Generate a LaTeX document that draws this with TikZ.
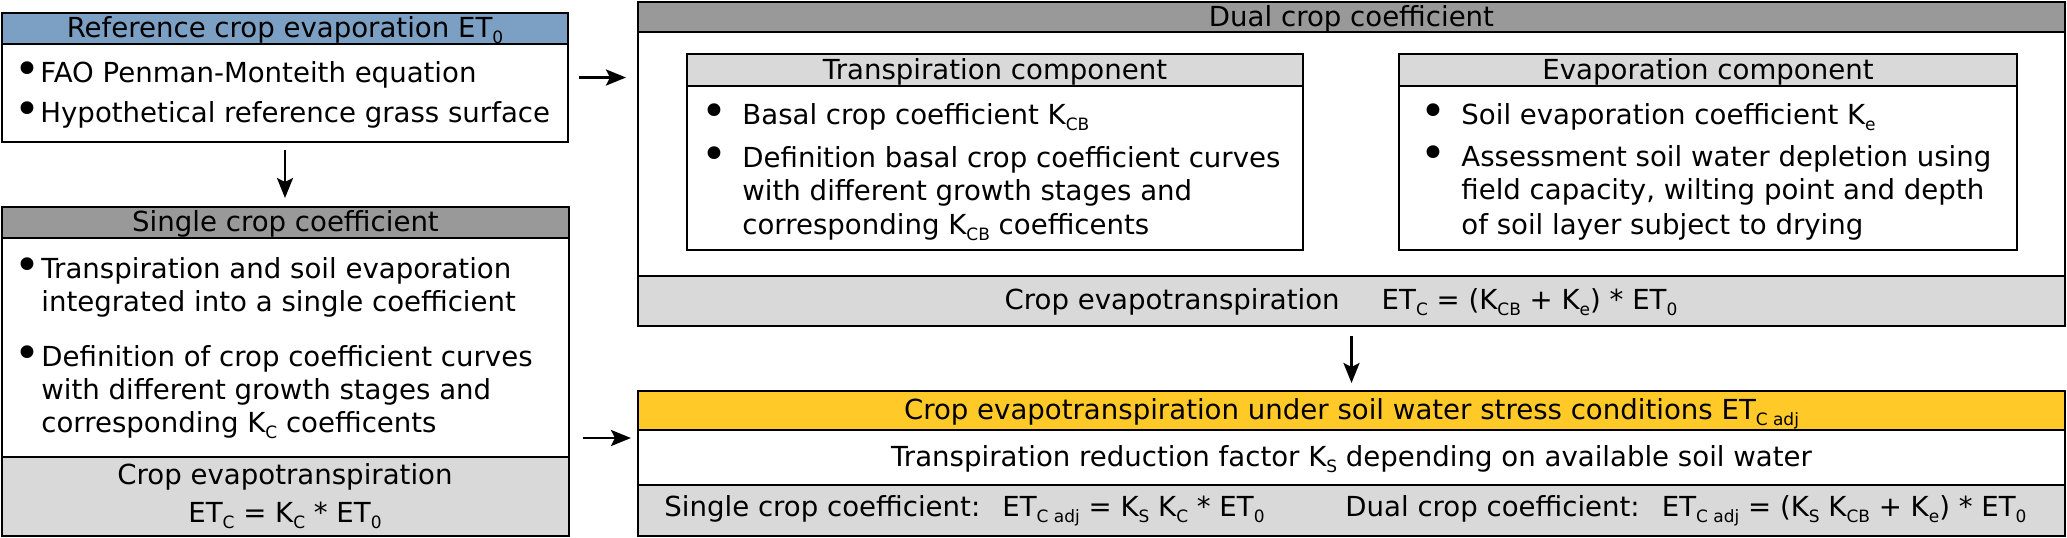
\documentclass[tikz,border=0pt]{standalone}
\usepackage{fontspec}
\setmainfont{DejaVu Sans}
\usetikzlibrary{arrows.meta,fit}
\definecolor{hblue}{RGB}{124,160,196}
\definecolor{hdark}{RGB}{153,153,153}
\definecolor{hlight}{RGB}{217,217,217}
\definecolor{hyellow}{RGB}{255,202,40}
\newcommand\sbs[1]{\raisebox{-3pt}{\fontsize{8.5}{8.5}\selectfont #1}}
\begin{document}
\begin{tikzpicture}[x=0.5pt,y=-0.5pt,
  sect/.style={draw=black, line width=1pt, inner sep=0pt},
  txt/.style={font=\fontsize{13.8}{16.5}\selectfont, inner sep=0pt},
  ctxt/.style={txt, anchor=base},
  item/.style={txt, anchor=base west},
  bul/.style={anchor=center, inner sep=0pt, font=\fontsize{22}{22}\selectfont},
  arr/.style={line width=1.4pt, -{Stealth[length=10pt,width=8pt,inset=2pt]}}]
\useasboundingbox[fill=white] (0,0) rectangle (2067,537);
% Reference ET0
\node[sect, fit={(2,13)(568,142)}] (b1) {};
\node[sect, fill=hblue, fit={(2,13)(568,44)}] (b1h) {};
\node[ctxt] (b1ht) at ([yshift=-4.5pt]b1h.center) {Reference crop evaporation ET\sbs{0}};
\node[sect, fill=white, fit={(2,44)(568,142)}] (b1b) {};
\node[bul] (b1u1) at (27,73) {•};
\node[item] (b1i1) at (40,82) {FAO Penman-Monteith equation};
\node[bul] (b1u2) at (27,113) {•};
\node[item] (b1i2) at (40,122) {Hypothetical reference grass surface};
% Single crop coefficient
\node[sect, fit={(2,207)(569,536)}] (sg) {};
\node[sect, fill=hdark, fit={(2,207)(569,238)}] (sgh) {};
\node[ctxt] (sght) at ([yshift=-4.5pt]sgh.center) {Single crop coefficient};
\node[sect, fill=white, fit={(2,238)(569,457)}] (sgb) {};
\node[sect, fill=hlight, fit={(2,457)(569,536)}] (sgf) {};
\node[ctxt] (sgf1) at (285,484) {Crop evapotranspiration};
\node[ctxt] (sgf2) at (285,522) {ET\sbs{C} = K\sbs{C} * ET\sbs{0}};
\node[bul] (sgu1) at (27,269) {•};
\node[item] (sgi1a) at (41,278) {Transpiration and soil evaporation};
\node[item] (sgi1b) at (41,311) {integrated into a single coefficient};
\node[bul] (sgu2) at (27,357) {•};
\node[item] (sgi2a) at (41,366) {Definition of crop coefficient curves};
\node[item] (sgi2b) at (41,399) {with different growth stages and};
\node[item] (sgi2c) at (41,432) {corresponding K\sbs{C} coefficents};
% Dual crop coefficient
\node[sect, fit={(638,2)(2065,326)}] (dl) {};
\node[sect, fill=hdark, fit={(638,2)(2065,32)}] (dlh) {};
\node[ctxt] (dlht) at ([yshift=-4.5pt]dlh.center) {Dual crop coefficient};
\node[sect, fill=white, fit={(638,32)(2065,276)}] (dlb) {};
\node[sect, fill=hlight, fit={(638,276)(2065,326)}] (dlf) {};
\node[ctxt] (dlft) at (1341,309) {Crop evapotranspiration\hspace{21pt}ET\sbs{C} = (K\sbs{CB} + K\sbs{e}) * ET\sbs{0}};
% Transpiration component
\node[sect, fill=hlight, fit={(687,54)(1303,86)}] (trh) {};
\node[ctxt] (trht) at ([yshift=-4.5pt]trh.center) {Transpiration component};
\node[sect, fill=white, fit={(687,86)(1303,250)}] (trb) {};
\node[bul] (tru1) at (714,115) {•};
\node[item] (tri1) at (742,124) {Basal crop coefficient K\sbs{CB}};
\node[bul] (tru2) at (714,158) {•};
\node[item] (tri2a) at (742,167) {Definition basal crop coefficient curves};
\node[item] (tri2b) at (742,200) {with different growth stages and};
\node[item] (tri2c) at (742,234) {corresponding K\sbs{CB} coefficents};
% Evaporation component
\node[sect, fill=hlight, fit={(1399,54)(2017,86)}] (evh) {};
\node[ctxt] (evht) at ([yshift=-4.5pt]evh.center) {Evaporation component};
\node[sect, fill=white, fit={(1399,86)(2017,250)}] (evb) {};
\node[bul] (evu1) at (1433,115) {•};
\node[item] (evi1) at (1461,124) {Soil evaporation coefficient K\sbs{e}};
\node[bul] (evu2) at (1433,157) {•};
\node[item] (evi2a) at (1461,166) {Assessment soil water depletion using};
\node[item] (evi2b) at (1461,199) {field capacity, wilting point and depth};
\node[item] (evi2c) at (1461,234) {of soil layer subject to drying};
% Stress conditions
\node[sect, fit={(638,391)(2065,536)}] (st) {};
\node[sect, fill=hyellow, fit={(638,391)(2065,430)}] (sth) {};
\node[ctxt] (stht) at ([yshift=-4.5pt]sth.center) {Crop evapotranspiration under soil water stress conditions ET\sbs{C adj}};
\node[sect, fill=white, fit={(638,430)(2065,485)}] (stb) {};
\node[ctxt] (stbt) at ([yshift=-4.5pt]stb.center) {Transpiration reduction factor K\sbs{S} depending on available soil water};
\node[sect, fill=hlight, fit={(638,485)(2065,536)}] (stf) {};
\node[item] (stf1) at (664,516) {Single crop coefficient:\hspace{0.8em}ET\sbs{C adj} = K\sbs{S} K\sbs{C} * ET\sbs{0}};
\node[item] (stf2) at (1345,516) {Dual crop coefficient:\hspace{0.8em}ET\sbs{C adj} = (K\sbs{S} K\sbs{CB} + K\sbs{e}) * ET\sbs{0}};
% Arrows
\draw[arr] ([xshift=5pt]b1.east) -- ([xshift=-5.5pt]dl.west |- b1.east);
\draw[arr] ([yshift=-3.5pt]b1.south) -- ([yshift=4pt]b1.south |- sg.north);
\coordinate (a3) at (600,438);
\draw[arr] ([xshift=6.5pt]sg.east |- a3) -- ([xshift=-3pt]st.west |- a3);
\draw[arr] ([yshift=-4.5pt]dl.south) -- ([yshift=3.5pt]st.north);
\end{tikzpicture}
\end{document}
